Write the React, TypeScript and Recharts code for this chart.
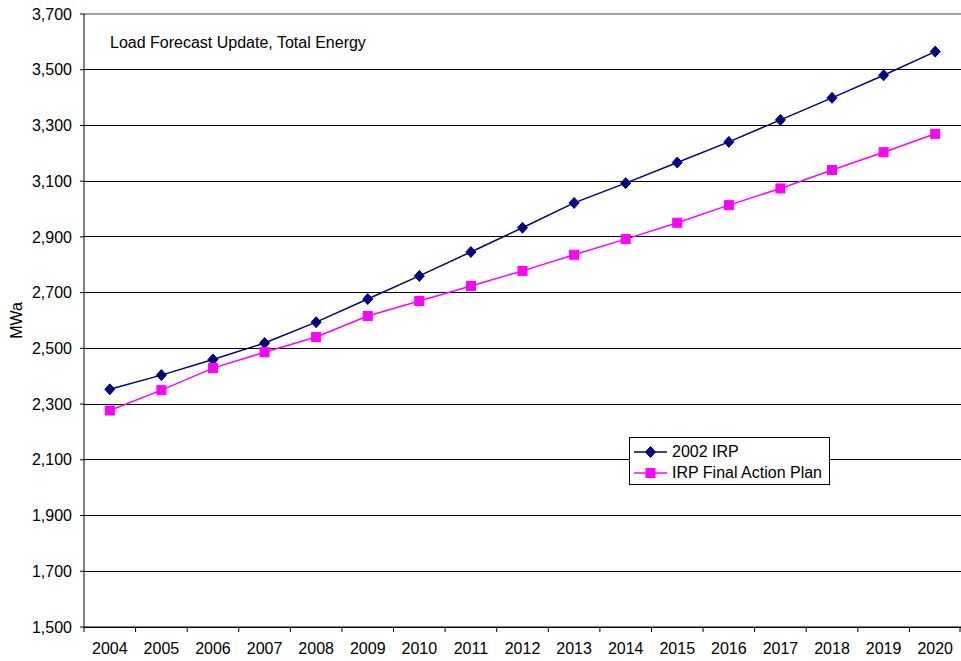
import { LineChart, Line, XAxis, YAxis, CartesianGrid, Legend, ReferenceLine } from "recharts";

const YEARS = ["2004", "2005", "2006", "2007", "2008", "2009", "2010", "2011", "2012", "2013", "2014", "2015", "2016", "2017", "2018", "2019", "2020"];
const IRP_2002 = [2353, 2404, 2460, 2519, 2594, 2677, 2760, 2846, 2933, 3022, 3093, 3167, 3241, 3320, 3399, 3480, 3565];
const FINAL_PLAN = [2277, 2350, 2429, 2486, 2541, 2616, 2670, 2724, 2778, 2836, 2892, 2951, 3014, 3074, 3140, 3204, 3270];
const Y_TICKS = [1500, 1700, 1900, 2100, 2300, 2500, 2700, 2900, 3100, 3300, 3500, 3700];

const SERIES = [
  { key: "irp", name: "2002 IRP", color: "#000080", shape: "diamond" },
  { key: "plan", name: "IRP Final Action Plan", color: "#FF00FF", shape: "square" },
];

const data = YEARS.map((year, i) => ({ year, irp: IRP_2002[i], plan: FINAL_PLAN[i] }));

const FONT = "Arial, 'Liberation Sans', sans-serif";
const W = 961;
const H = 661;

const Diamond = ({ cx, cy, color }: { cx: number; cy: number; color: string }) => (
  <polygon points={`${cx},${cy - 5.5} ${cx + 5},${cy} ${cx},${cy + 5.5} ${cx - 5},${cy}`} fill={color} stroke={color} />
);

const Square = ({ cx, cy, color }: { cx: number; cy: number; color: string }) => (
  <rect x={cx - 4.5} y={cy - 4.5} width={9} height={9} fill={color} stroke={color} />
);

const marker = (shape: string, color: string) => (p: any) => {
  if (p.cx == null || p.cy == null) return <g key={p.key} />;
  return shape === "diamond"
    ? <Diamond key={p.key} cx={p.cx} cy={p.cy} color={color} />
    : <Square key={p.key} cx={p.cx} cy={p.cy} color={color} />;
};

// category labels centred in the band, tick marks on the band edges
const YearTick = (props: any) => {
  const { x, y, payload, index } = props;
  const half = payload?.offset || (W - 84) / YEARS.length / 2;
  return (
    <g>
      <line x1={x - half} y1={y} x2={x - half} y2={y + 5} stroke="#000" />
      {index === YEARS.length - 1 && <line x1={x + half - 1} y1={y} x2={x + half - 1} y2={y + 5} stroke="#000" />}
      <text x={x} y={y + 21} textAnchor="middle" dominantBaseline="central" fill="#000" fontSize={16} fontFamily={FONT}>
        {payload.value}
      </text>
    </g>
  );
};

const LegendBox = () => (
  <div style={{ border: "1px solid #000", background: "#fff", width: 201, height: 48, boxSizing: "border-box", paddingTop: 3, fontFamily: FONT, fontSize: 16, color: "#000", textAlign: "left" }}>
    {SERIES.map(s => (
      <div key={s.key} style={{ display: "flex", alignItems: "center", height: 21.5 }}>
        <svg width={42} height={14} style={{ display: "block" }}>
          <line x1={4} y1={7} x2={37} y2={7} stroke={s.color} strokeWidth={1.5} />
          {s.shape === "diamond" ? <Diamond cx={20.5} cy={7} color={s.color} /> : <Square cx={20.5} cy={7} color={s.color} />}
        </svg>
        <span style={{ whiteSpace: "nowrap" }}>{s.name}</span>
      </div>
    ))}
  </div>
);

export default function App() {
  return (
    <div style={{ position: "absolute", left: 0, top: 0, width: W, height: H, background: "#fff", fontFamily: FONT }}>
      <LineChart width={W} height={H} data={data} margin={{ top: 14, right: 0, bottom: 4, left: 0 }}>
        <CartesianGrid vertical={false} stroke="#000" shapeRendering="crispEdges" />
        <ReferenceLine y={3700} stroke="#a0a0a0" strokeWidth={2} />
        <XAxis
          dataKey="year"
          scale="band"
          height={30}
          interval={0}
          tickLine={false}
          tickSize={0}
          tickMargin={0}
          axisLine={{ stroke: "#000" }}
          tick={<YearTick />}
        />
        <YAxis
          width={84}
          domain={[1500, 3700]}
          ticks={Y_TICKS}
          interval={0}
          tickSize={4}
          tickMargin={8}
          tickLine={{ stroke: "#000" }}
          axisLine={{ stroke: "#000" }}
          tick={{ fill: "#000", fontSize: 16, fontFamily: FONT }}
          tickFormatter={(v: number) => v.toLocaleString("en-US")}
          label={{
            content: ({ viewBox }: any) => {
              const cy = viewBox ? viewBox.y + viewBox.height / 2 : 320;
              return (
                <text x={16} y={cy} transform={`rotate(-90 16 ${cy})`} textAnchor="middle" dominantBaseline="central" fill="#000" fontSize={16} fontFamily={FONT}>
                  MWa
                </text>
              );
            },
          }}
        />
        <Legend
          layout="horizontal"
          align="center"
          verticalAlign="middle"
          content={<LegendBox />}
          wrapperStyle={{ left: 629, top: 437, width: "auto" }}
        />
        {SERIES.map(s => (
          <Line
            key={s.key}
            dataKey={s.key}
            name={s.name}
            stroke={s.color}
            strokeWidth={1.5}
            dot={marker(s.shape, s.color)}
            activeDot={false}
            isAnimationActive={false}
          />
        ))}
      </LineChart>
      <div style={{ position: "absolute", left: 110, top: 33, fontSize: 16, lineHeight: "20px", color: "#000", whiteSpace: "nowrap" }}>
        Load Forecast Update, Total Energy
      </div>
    </div>
  );
}
